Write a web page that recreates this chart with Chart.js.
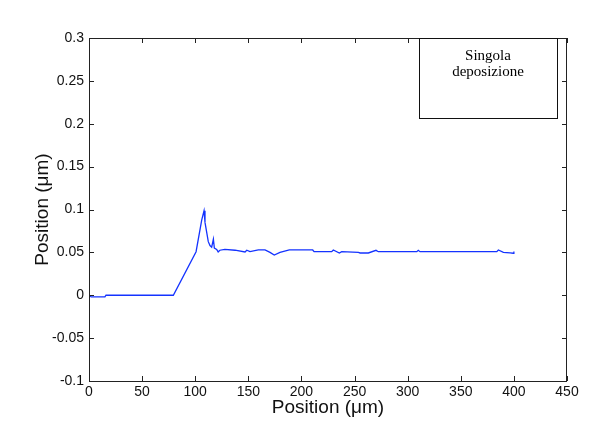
<!DOCTYPE html>
<html>
<head>
<meta charset="utf-8">
<script src="https://cdn.jsdelivr.net/npm/chart.js@4.4.1/dist/chart.umd.min.js"></script>
<style>
  html, body { margin: 0; padding: 0; background: #fff; }
  canvas { display: block; }
</style>
</head>
<body>
<canvas id="profile-chart" width="613" height="423"></canvas>
<script>
(function () {
  'use strict';

  // values
  const xValues = [0, 2, 15, 16, 79.4, 100.8, 106.1, 108.3, 109.2, 112.3, 113.9, 115.5, 117.1, 118, 120.2, 121.6, 123.2,
    127.9, 137.5, 146.9, 148.5, 151.6, 159.4, 165.7, 170.4, 174.4, 179.8, 188.6, 210.6, 211.9, 228.5, 230, 235.7,
    237.9, 253.6, 255.2, 263, 270.2, 272.4, 308.6, 310, 311.6, 383.9, 385.4, 390.1, 396.4, 399.5, 400];
  const yValues = [0, -0.002, -0.002, 0, 0, 0.0508, 0.0877, 0.0986, 0.085, 0.0625, 0.058, 0.056, 0.0655, 0.055, 0.0535,
    0.0505, 0.0525, 0.0535, 0.0525, 0.0505, 0.0525, 0.0508, 0.0528, 0.0528, 0.05, 0.0469, 0.05, 0.0528, 0.0528,
    0.0508, 0.0508, 0.0528, 0.0493, 0.0508, 0.05, 0.0493, 0.0493, 0.0524, 0.0508, 0.0508, 0.0524, 0.0508, 0.0508,
    0.0528, 0.05, 0.0493, 0.049, 0.051];
  const xTicks = [0, 50, 100, 150, 200, 250, 300, 350, 400, 450];
  const yTicks = [-0.1, -0.05, 0, 0.05, 0.1, 0.15, 0.2, 0.25, 0.3];
  const legendLines = ['Singola', 'deposizione'];
  const axisTitle = 'Position (\u03bcm)';

  const points = xValues.map((x, i) => ({ x: x, y: yValues[i] }));
  const fmt = v => String(Number(v.toFixed(3)));

  // matlab-like frame with inward ticks + text box
  const framePlugin = {
    id: 'frame',
    afterDraw(chart) {
      const ctx = chart.ctx;
      const a = chart.chartArea;
      const xs = chart.scales.x;
      const ys = chart.scales.y;
      const tl = 5;
      ctx.save();
      ctx.strokeStyle = '#222';
      ctx.lineWidth = 1;
      ctx.strokeRect(a.left + 0.5, a.top + 0.5, a.right - a.left - 1, a.bottom - a.top);
      ctx.beginPath();
      xTicks.forEach(v => {
        const px = Math.round(xs.getPixelForValue(v)) + 0.5;
        ctx.moveTo(px, a.bottom); ctx.lineTo(px, a.bottom - tl);
        ctx.moveTo(px, a.top); ctx.lineTo(px, a.top + tl);
      });
      yTicks.forEach(v => {
        const py = Math.round(ys.getPixelForValue(v)) + 0.5;
        ctx.moveTo(a.left, py); ctx.lineTo(a.left + tl, py);
        ctx.moveTo(a.right, py); ctx.lineTo(a.right - tl, py);
      });
      ctx.stroke();

      // text box top right
      ctx.fillStyle = '#fff';
      ctx.fillRect(419, 38, 138, 80);
      ctx.strokeStyle = '#111';
      ctx.strokeRect(419.5, 38.5, 138, 80);
      ctx.fillStyle = '#000';
      ctx.font = '15px "Liberation Serif", serif';
      ctx.textAlign = 'center';
      ctx.textBaseline = 'middle';
      legendLines.forEach((t, i) => ctx.fillText(t, 488, 56 + i * 16));
      ctx.restore();
    }
  };

  new Chart(document.getElementById('profile-chart'), {
    type: 'line',
    data: {
      datasets: [{
        data: points,
        borderColor: '#1433ff',
        borderWidth: 1.3,
        pointRadius: 0,
        tension: 0,
        fill: false
      }]
    },
    options: {
      responsive: false,
      animation: false,
      layout: { padding: { left: 0, right: 46, top: 38, bottom: 0 } },
      scales: {
        x: {
          type: 'linear',
          min: 0,
          max: 450,
          afterFit: s => { s.height = 42; },
          afterBuildTicks: s => { s.ticks = xTicks.map(v => ({ value: v })); },
          grid: { display: false, drawTicks: false },
          border: { display: false },
          ticks: { padding: 3, color: '#111', font: { family: 'Liberation Sans', size: 14 }, maxRotation: 0, callback: fmt },
          title: { display: true, text: axisTitle, color: '#111', padding: { top: 0, bottom: 4 }, font: { family: 'Liberation Sans', size: 19 } }
        },
        y: {
          min: -0.1,
          max: 0.3,
          afterFit: s => { s.width = 89; },
          afterBuildTicks: s => { s.ticks = yTicks.map(v => ({ value: v })); },
          grid: { display: false, drawTicks: false },
          border: { display: false },
          ticks: { padding: 5, color: '#111', font: { family: 'Liberation Sans', size: 14 }, callback: fmt },
          title: { display: true, text: axisTitle, color: '#111', padding: { top: 31, bottom: 0 }, font: { family: 'Liberation Sans', size: 19 } }
        }
      },
      plugins: {
        legend: { display: false },
        tooltip: { enabled: false }
      }
    },
    plugins: [framePlugin]
  });
})();
</script>
</body>
</html>
